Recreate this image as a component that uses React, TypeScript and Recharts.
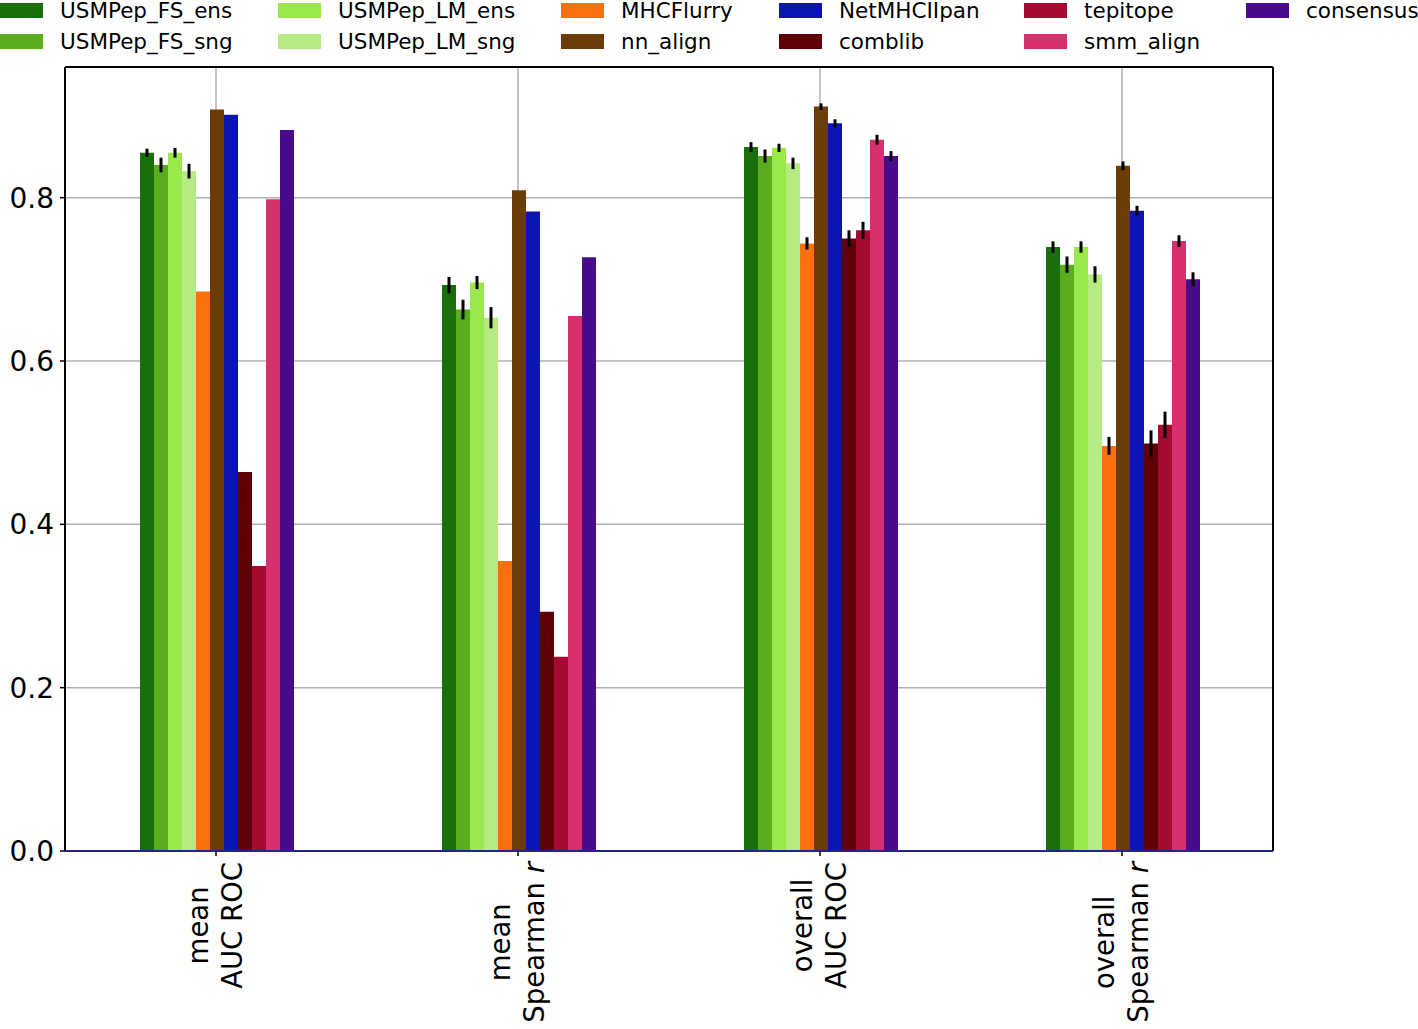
import { BarChart, Bar, XAxis, YAxis, CartesianGrid, ErrorBar } from "recharts";

const FONT = "'DejaVu Sans', sans-serif";

// categories on the x axis (line break = two-line label)
const CATEGORIES = ["mean\nAUC ROC", "mean\nSpearman r", "overall\nAUC ROC", "overall\nSpearman r"];

const SERIES = [
  "USMPep_FS_ens",
  "USMPep_FS_sng",
  "USMPep_LM_ens",
  "USMPep_LM_sng",
  "MHCFlurry",
  "nn_align",
  "NetMHCIIpan",
  "comblib",
  "tepitope",
  "smm_align",
  "consensus",
];

const COLORS = [
  "#1b6e0c",
  "#5aad1c",
  "#9ae84c",
  "#b6ea82",
  "#fb700e",
  "#6a3c08",
  "#0c14b2",
  "#600006",
  "#a50a33",
  "#d8306f",
  "#4a0a8c",
];

// values per series, one per category
const FS_ENS = [0.855, 0.693, 0.862, 0.7395];
const FS_SNG = [0.84, 0.663, 0.851, 0.718];
const LM_ENS = [0.855, 0.696, 0.861, 0.7395];
const LM_SNG = [0.8325, 0.653, 0.842, 0.706];
const MHCFLURRY = [0.685, 0.355, 0.744, 0.496];
const NN_ALIGN = [0.908, 0.809, 0.9115, 0.839];
const NETMHCIIPAN = [0.9015, 0.783, 0.891, 0.784];
const COMBLIB = [0.464, 0.293, 0.75, 0.499];
const TEPITOPE = [0.349, 0.238, 0.76, 0.522];
const SMM_ALIGN = [0.798, 0.655, 0.871, 0.747];
const CONSENSUS = [0.883, 0.727, 0.851, 0.7];

// error bar half-lengths (null = no error bar)
const FS_ENS_ERR = [0.005, 0.01, 0.006, 0.007];
const FS_SNG_ERR = [0.009, 0.012, 0.008, 0.01];
const LM_ENS_ERR = [0.006, 0.008, 0.005, 0.007];
const LM_SNG_ERR = [0.009, 0.013, 0.007, 0.01];
const MHCFLURRY_ERR = [null, null, 0.0075, 0.011];
const NN_ALIGN_ERR = [null, null, 0.004, 0.0053];
const NETMHCIIPAN_ERR = [null, null, 0.005, 0.006];
const COMBLIB_ERR = [null, null, 0.01, 0.016];
const TEPITOPE_ERR = [null, null, 0.0104, 0.016];
const SMM_ALIGN_ERR = [null, null, 0.006, 0.007];
const CONSENSUS_ERR = [null, null, 0.006, 0.0086];

const Y_TICKS = [0, 0.2, 0.4, 0.6, 0.8];

const VALUES = [FS_ENS, FS_SNG, LM_ENS, LM_SNG, MHCFLURRY, NN_ALIGN, NETMHCIIPAN, COMBLIB, TEPITOPE, SMM_ALIGN, CONSENSUS];
const ERRORS = [
  FS_ENS_ERR, FS_SNG_ERR, LM_ENS_ERR, LM_SNG_ERR, MHCFLURRY_ERR, NN_ALIGN_ERR,
  NETMHCIIPAN_ERR, COMBLIB_ERR, TEPITOPE_ERR, SMM_ALIGN_ERR, CONSENSUS_ERR,
];

const data = CATEGORIES.map((cat, i) => {
  const row: Record<string, any> = { cat };
  SERIES.forEach((s, j) => {
    row[s] = VALUES[j][i];
    row[s + "_err"] = ERRORS[j][i];
  });
  return row;
});

// legend column x (swatch left), rows fill column first
const LEGEND_X = [0, 278, 561, 779, 1024, 1246];

let canvasCtx: CanvasRenderingContext2D | null = null;
function textWidth(s: string, size: number) {
  if (!canvasCtx) canvasCtx = document.createElement("canvas").getContext("2d");
  if (!canvasCtx) return s.length * size * 0.6;
  canvasCtx.font = `${size}px DejaVu Sans`;
  return canvasCtx.measureText(s).width;
}

function CatTick({ x, y, payload }: any) {
  const lines = String(payload.value).split("\n");
  const size = 27.5;
  const w = Math.max(...lines.map((l) => textWidth(l, size)));
  return (
    <g transform={`translate(${x},${y})`}>
      {lines.map((l, i) => {
        const italic = l.endsWith(" r");
        const base = italic ? l.slice(0, -1) : l;
        return (
          <text
            key={i}
            transform="rotate(-90)"
            x={-(4 + w / 2)}
            y={i === 0 ? -8 : 26}
            textAnchor="middle"
            fontSize={size}
            fontFamily={FONT}
            fill="#000"
          >
            {base}
            {italic && <tspan fontStyle="italic">r</tspan>}
          </text>
        );
      })}
    </g>
  );
}

export default function App() {
  return (
    <div style={{ position: "absolute", left: 0, top: 0, width: 1418, height: 1029, background: "#fff", fontFamily: FONT }}>
      {SERIES.map((s, j) => {
        const col = Math.floor(j / 2);
        const row = j % 2;
        return (
          <div key={s} style={{ position: "absolute", left: LEGEND_X[col], top: row * 31 - 1, height: 22, display: "flex", alignItems: "center" }}>
            <div style={{ width: 43, height: 15, background: COLORS[j] }} />
            <span style={{ marginLeft: 17, fontSize: 21.5, color: "#000", whiteSpace: "nowrap" }}>{s}</span>
          </div>
        );
      })}
      <BarChart
        width={1418}
        height={1029}
        data={data}
        margin={{ top: 65, right: 143, left: 5, bottom: 0 }}
        barCategoryGap={75}
        barGap={0}
      >
        <CartesianGrid stroke="#b0b0b0" strokeWidth={1.5} />
        <XAxis
          dataKey="cat"
          height={178}
          interval={0}
          tick={<CatTick />}
          tickSize={5}
          tickLine={{ stroke: "#000", strokeWidth: 1.5 }}
          axisLine={{ stroke: "#232390", strokeWidth: 2 }}
        />
        <XAxis
          xAxisId="top"
          orientation="top"
          dataKey="cat"
          height={2}
          tick={false}
          tickLine={false}
          axisLine={{ stroke: "#000", strokeWidth: 2 }}
        />
        <YAxis
          width={60}
          domain={[0, 0.96]}
          ticks={Y_TICKS}
          type="number"
          allowDataOverflow
          tickFormatter={(v: number) => v.toFixed(1)}
          tick={{ fontSize: 28, fill: "#000", fontFamily: FONT }}
          tickSize={5}
          tickMargin={6}
          tickLine={{ stroke: "#000", strokeWidth: 1.5 }}
          axisLine={{ stroke: "#000", strokeWidth: 2 }}
        />
        <YAxis
          yAxisId="right"
          orientation="right"
          type="number"
          domain={[0, 1]}
          width={2}
          tick={false}
          tickLine={false}
          axisLine={{ stroke: "#000", strokeWidth: 2 }}
        />
        {SERIES.map((s, j) => (
          <Bar key={s} dataKey={s} fill={COLORS[j]} isAnimationActive={false}>
            <ErrorBar dataKey={s + "_err"} width={0} stroke="#000" strokeWidth={3} direction="y" />
          </Bar>
        ))}
      </BarChart>
    </div>
  );
}
